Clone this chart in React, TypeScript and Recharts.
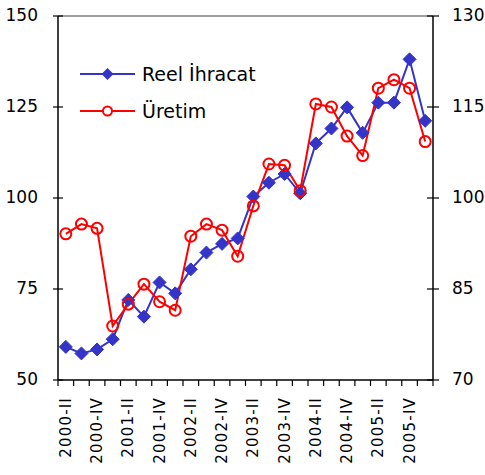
import React from 'react';
import { Legend, Line, LineChart, ReferenceLine, XAxis, YAxis } from 'recharts';

const quarters = [
  '2000-II', '2000-III', '2000-IV', '2001-I', '2001-II', '2001-III', '2001-IV', '2002-I',
  '2002-II', '2002-III', '2002-IV', '2003-I', '2003-II', '2003-III', '2003-IV', '2004-I',
  '2004-II', '2004-III', '2004-IV', '2005-I', '2005-II', '2005-III', '2005-IV', '2006-I',
];

// Reel İhracat (left axis)
const exportsReal = [
  59.1, 57.3, 58.4, 61.2, 72.0, 67.4, 76.8, 73.8, 80.4, 85.0, 87.4, 88.9,
  100.4, 104.2, 106.6, 101.3, 115.0, 119.1, 124.9, 117.9, 126.2, 126.2, 138.1, 121.2,
];

// Üretim (right axis)
const production = [
  94.1, 95.7, 95.0, 78.9, 82.5, 85.8, 82.9, 81.5, 93.7, 95.7, 94.7, 90.4,
  98.7, 105.6, 105.4, 101.2, 115.5, 115.0, 110.2, 107.0, 118.1, 119.5, 118.1, 109.3,
];

const leftTicks = [50, 75, 100, 125, 150];
const rightTicks = [70, 85, 100, 115, 130];

const data = quarters.map((q, i) => ({
  q,
  ihracat: exportsReal[i],
  uretim: production[i],
}));

const FONT = '"DejaVu Sans", sans-serif';
const BLUE = '#3434C8';
const RED = '#FF0000';
const BAND = 375 / quarters.length;

const Diamond = (props: any) => {
  const { cx, cy, index } = props;
  if (cx == null || cy == null) return null;
  const s = 6.5;
  return (
    <polygon
      key={`d-${index}`}
      points={`${cx},${cy - s} ${cx + s},${cy} ${cx},${cy + s} ${cx - s},${cy}`}
      fill={BLUE}
      stroke={BLUE}
    />
  );
};

const XTick = (props: any) => {
  const { x, y, index, payload } = props;
  const last = index === quarters.length - 1;
  return (
    <g>
      <line x1={x - BAND / 2} x2={x - BAND / 2} y1={y} y2={y + 6} stroke="#000" strokeWidth={1.2} />
      {last && (
        <line x1={x + BAND / 2} x2={x + BAND / 2} y1={y} y2={y + 6} stroke="#000" strokeWidth={1.2} />
      )}
      {index % 2 === 0 && (
        <text
          x={x + 5}
          y={y + 17}
          transform={`rotate(-90, ${x + 5}, ${y + 17})`}
          textAnchor="end"
          fontFamily={FONT}
          fontSize={15}
          letterSpacing={1.2}
          fill="#000"
        >
          {payload.value}
        </text>
      )}
    </g>
  );
};

const LeftTick = (props: any) => {
  const { x, y, payload } = props;
  return (
    <g>
      <line x1={x + 15} x2={x + 25} y1={y} y2={y} stroke="#000" strokeWidth={1.2} />
      <text x={x} y={y} dy="0.3em" textAnchor="end" fontFamily={FONT} fontSize={17} fill="#000">
        {payload.value}
      </text>
    </g>
  );
};

const RightTick = (props: any) => {
  const { x, y, payload } = props;
  return (
    <g>
      <line x1={x - 25} x2={x - 13} y1={y} y2={y} stroke="#000" strokeWidth={1.2} />
      <text x={x} y={y} dy="0.3em" textAnchor="start" fontFamily={FONT} fontSize={17} fill="#000">
        {payload.value}
      </text>
    </g>
  );
};

const renderLegend = () => (
  <div style={{ fontFamily: FONT, fontSize: 19, color: '#000' }}>
    <div style={{ display: 'flex', alignItems: 'center', height: 37 }}>
      <svg width={60} height={20}>
        <line x1={2} x2={57} y1={10} y2={10} stroke={BLUE} strokeWidth={2} />
        <polygon points="29.5,4 35.5,10 29.5,16 23.5,10" fill={BLUE} />
      </svg>
      <span style={{ marginLeft: 4 }}>Reel İhracat</span>
    </div>
    <div style={{ display: 'flex', alignItems: 'center', height: 37 }}>
      <svg width={60} height={20}>
        <line x1={2} x2={57} y1={10} y2={10} stroke={RED} strokeWidth={2} />
        <circle cx={29.5} cy={10} r={4.5} fill="#fff" stroke={RED} strokeWidth={2} />
      </svg>
      <span style={{ marginLeft: 4 }}>Üretim</span>
    </div>
  </div>
);

export default function App() {
  return (
    <div style={{ position: 'absolute', left: 0, top: 0, background: '#fff' }}>
      <LineChart width={485} height={475} data={data} margin={{ top: 16, right: 0, bottom: 0, left: 0 }}>
        <XAxis
          dataKey="q"
          interval={0}
          height={95}
          padding={{ left: BAND / 2, right: BAND / 2 }}
          tickSize={0}
          tickMargin={0}
          tickLine={false}
          axisLine={{ stroke: '#000', strokeWidth: 1.5 }}
          tick={<XTick />}
        />
        <YAxis
          yAxisId="left"
          width={58}
          domain={[50, 150]}
          ticks={leftTicks}
          tickSize={0}
          tickMargin={20}
          tickLine={false}
          axisLine={{ stroke: '#000', strokeWidth: 1.5 }}
          tick={<LeftTick />}
        />
        <YAxis
          yAxisId="right"
          orientation="right"
          width={52}
          domain={[70, 130]}
          ticks={rightTicks}
          tickSize={0}
          tickMargin={19}
          tickLine={false}
          axisLine={{ stroke: '#000', strokeWidth: 1.5 }}
          tick={<RightTick />}
        />
        <ReferenceLine yAxisId="left" y={150} stroke="#808080" strokeWidth={1.5} />
        <Legend
          layout="vertical"
          align="center"
          verticalAlign="middle"
          wrapperStyle={{ left: 78, top: 55, width: 'auto' }}
          content={renderLegend}
        />
        <Line
          yAxisId="left"
          dataKey="ihracat"
          name="Reel İhracat"
          stroke={BLUE}
          strokeWidth={2}
          dot={<Diamond />}
          isAnimationActive={false}
        />
        <Line
          yAxisId="right"
          dataKey="uretim"
          name="Üretim"
          stroke={RED}
          strokeWidth={2}
          dot={{ r: 5.5, fill: 'none', stroke: RED, strokeWidth: 2 }}
          isAnimationActive={false}
        />
      </LineChart>
    </div>
  );
}
